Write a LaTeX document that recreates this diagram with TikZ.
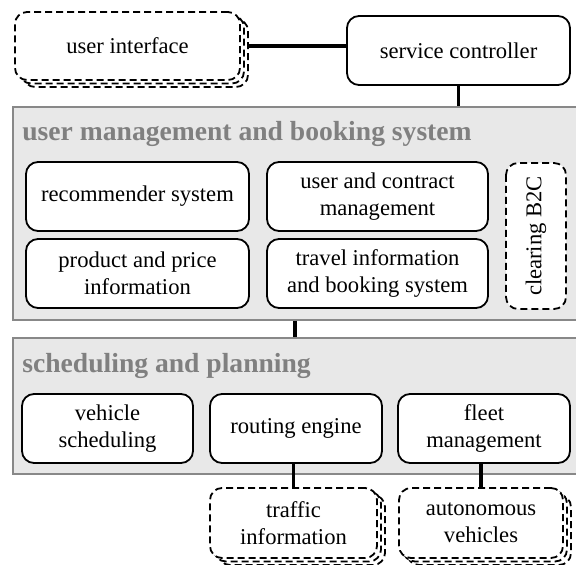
\documentclass[tikz,border=0pt]{standalone}
\usepackage{fontspec}
\setmainfont{Liberation Serif}
\usetikzlibrary{calc,shadows,backgrounds}

\definecolor{layerfill}{RGB}{232,232,232}
\definecolor{layerline}{RGB}{136,136,136}
\definecolor{layertext}{RGB}{128,128,128}

\begin{document}
\begin{tikzpicture}[x=1pt, y=1pt,
    font=\fontsize{11.3}{13.5}\selectfont,
    module/.style={draw, line width=0.9pt, fill=white, rounded corners=6pt,
        align=center, minimum height=34.5pt},
    dashline/.style={dash pattern=on 3.5pt off 2pt},
    external/.style={module, dashline,
        general shadow={shadow xshift=4pt, shadow yshift=-3.5pt, draw, dashline, line width=0.9pt, fill=white},
        general shadow={shadow xshift=2pt, shadow yshift=-1.75pt, draw, dashline, line width=0.9pt, fill=white}},
    layer/.style={draw=layerline, line width=1pt, fill=layerfill, minimum width=282pt},
    layertitle/.style={anchor=base west, inner sep=0pt, text=layertext,
        font=\fontsize{13.8}{16}\selectfont\bfseries},
    link/.style={line width=1.7pt}]
    \useasboundingbox (0,0) rectangle (288,-282.5);

    % top row
    \node[external, minimum width=112.5pt, minimum height=34pt] (ui) at (63.75,-23) {user interface};
    \node[module, minimum width=111.5pt] (sc) at (229.25,-25.25) {service controller};

    % user management and booking system
    \node[layertitle] (bookingtitle) at (11,-70.5) {user management and booking system};
    \node[module, minimum width=111.5pt] (rec) at (68.75,-98.25) {recommender system};
    \node[module, minimum width=111.5pt] (prod) at (68.75,-136.75) {product and price\\information};
    \node[module, minimum width=110.5pt] (uc) at (188.75,-98.25) {user and contract\\management};
    \node[module, minimum width=110.5pt] (travel) at (188.75,-136.75) {travel information\\and booking system};
    \node[module, dashline, rotate=90, minimum width=73pt, minimum height=30pt] (b2c) at (268,-118) {clearing B2C};

    % scheduling and planning
    \node[layertitle] (planningtitle) at (11,-186) {scheduling and planning};
    \node[module, minimum width=85.5pt] (veh) at (53.75,-214.25) {vehicle\\scheduling};
    \node[module, minimum width=86pt] (route) at (148,-214.25) {routing engine};
    \node[module, minimum width=86pt] (fleet) at (242,-214.25) {fleet\\management};

    % outside sources
    \node[external, minimum width=83.5pt, minimum height=35pt] (traffic) at (146.75,-261.5) {traffic\\information};
    \node[external, minimum width=82pt, minimum height=35pt] (auto) at (240.5,-261.5) {autonomous\\vehicles};

    \begin{scope}[on background layer]
        \node[layer, minimum height=106.5pt] (booking) at (147.5,-106.75) {};
        \node[layer, minimum height=68pt] (planning) at (147.5,-203) {};
        % links
        \draw[link] (ui.east) -- (ui.east -| sc.west);
        \draw[link] (sc.south) -- (sc.south |- booking.north);
        \draw[link] (booking.south) -- (planning.north);
        \draw[link] (traffic.north) -- (traffic.north |- route.south);
        \draw[link] (auto.north) -- (auto.north |- fleet.south);
    \end{scope}
\end{tikzpicture}
\end{document}
